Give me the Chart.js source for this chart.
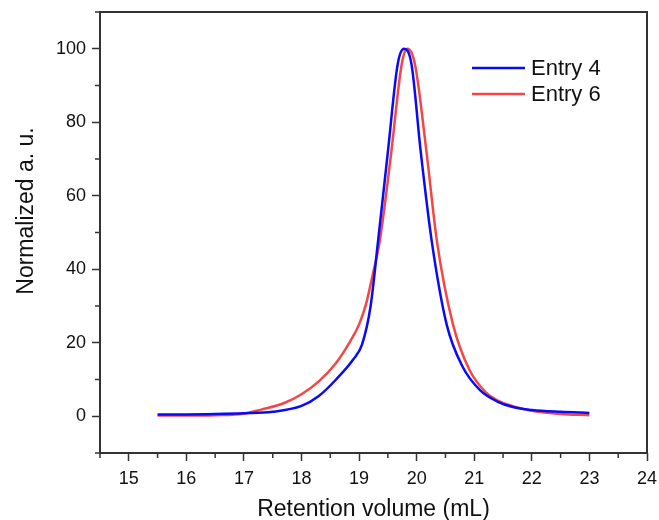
<!DOCTYPE html>
<html>
<head>
<meta charset="utf-8">
<script src="https://cdn.jsdelivr.net/npm/chart.js@4.4.0/dist/chart.umd.min.js"></script>
<style>
  body { margin: 0; background: #fff; }
  #wrap { width: 659px; height: 520px; }
</style>
</head>
<body>
<div id="wrap"><canvas id="gpc"></canvas></div>
<script>
// series (retention volume in mL, normalized signal)
var entry4X = [15.5, 16.0, 16.5, 17.0, 17.5, 18.0, 18.3, 18.6, 18.9, 19.05, 19.2, 19.33, 19.5, 19.67, 19.78, 19.91, 20.07, 20.26, 20.52, 20.8, 21.1, 21.4, 21.67, 22.0, 22.5, 23.0];
var entry4Y = [0.5, 0.5, 0.6, 0.8, 1.2, 2.8, 5.5, 10, 15.5, 19.5, 30, 47.8, 72, 95.8, 100, 95.8, 72, 47.8, 25, 13.4, 7.1, 4, 2.5, 1.7, 1.2, 0.9];

var entry6X = [15.5, 16.0, 16.5, 17.0, 17.3, 17.7, 18.0, 18.3, 18.6, 18.85, 19.0, 19.12, 19.24, 19.36, 19.56, 19.74, 19.84, 19.97, 20.17, 20.35, 20.63, 20.92, 21.2, 21.4, 21.7, 22.0, 22.5, 23.0];
var entry6Y = [0.2, 0.2, 0.3, 0.7, 1.8, 3.6, 6, 9.5, 14.5, 20.5, 25, 30.5, 38.8, 47.8, 72, 95.8, 100, 95.8, 72, 47.8, 25, 12.5, 6.5, 4.3, 2.6, 1.5, 0.6, 0.3];

var xTicks = [15, 16, 17, 18, 19, 20, 21, 22, 23, 24];
var yTicks = [0, 20, 40, 60, 80, 100];
var legendNames = ['Entry 4', 'Entry 6'];
var lineColors = ['#0a0af5', '#f44646'];

function toPoints(xs, ys) {
    var pts = [];
    for (var i = 0; i < xs.length; i++) pts.push({ x: xs[i], y: ys[i] });
    return pts;
}

var axisColor = '#333';
var fontName = "'Liberation Sans', Arial, sans-serif";

// box around the plot, minor ticks, y title and the in-plot legend
var framePlugin = {
    id: 'frame',
    afterDraw: function(chart) {
        var c = chart.ctx, a = chart.chartArea;
        var xs = chart.scales.x, ys = chart.scales.y;
        c.save();
        c.strokeStyle = axisColor;
        c.lineWidth = 1.5;
        // minor ticks
        for (var v = 14.5; v <= 24.001; v += 1) {
            var px = xs.getPixelForValue(v);
            c.beginPath(); c.moveTo(px, a.bottom); c.lineTo(px, a.bottom + 5); c.stroke();
        }
        for (var w = -10; w <= 110; w += 20) {
            var py = ys.getPixelForValue(w);
            c.beginPath(); c.moveTo(a.left, py); c.lineTo(a.left - 5, py); c.stroke();
        }
        c.lineWidth = 2;
        c.strokeRect(a.left, a.top, a.right - a.left, a.bottom - a.top);

        // y axis title
        c.fillStyle = '#111';
        c.font = '23px ' + fontName;
        c.textAlign = 'center';
        c.textBaseline = 'middle';
        c.translate(27, 211);
        c.rotate(-Math.PI / 2);
        c.fillText('Normalized a. u.', 0, 0);
        c.setTransform(1, 0, 0, 1, 0, 0);

        // legend
        c.font = '22px ' + fontName;
        c.textAlign = 'left';
        for (var i = 0; i < legendNames.length; i++) {
            var ly = 68 + i * 26;
            c.strokeStyle = lineColors[i];
            c.lineWidth = 2.5;
            c.beginPath(); c.moveTo(472, ly); c.lineTo(525, ly); c.stroke();
            c.fillText(legendNames[i], 531, ly + 1);
        }
        c.restore();
    }
};

var ctx = document.getElementById('gpc').getContext('2d');
var chart = new Chart(ctx, {
    type: 'line',
    data: {
        datasets: [{
            label: legendNames[0],
            data: toPoints(entry4X, entry4Y),
            borderColor: lineColors[0],
            borderWidth: 2.5,
            pointRadius: 0,
            cubicInterpolationMode: 'monotone'
        }, {
            label: legendNames[1],
            data: toPoints(entry6X, entry6Y),
            borderColor: lineColors[1],
            borderWidth: 2.5,
            pointRadius: 0,
            cubicInterpolationMode: 'monotone'
        }]
    },
    options: {
        responsive: true,
        maintainAspectRatio: false,
        animation: false,
        layout: { padding: { top: 12, right: 12, left: 0, bottom: 0 } },
        plugins: { legend: { display: false }, tooltip: { enabled: false } },
        scales: {
            x: {
                type: 'linear',
                min: 14.5,
                max: 24,
                afterBuildTicks: function(s) { s.ticks = xTicks.map(function(v) { return { value: v }; }); },
                afterFit: function(s) { s.height = 67; s.paddingLeft = 0; s.paddingRight = 0; },
                grid: { drawOnChartArea: false, drawTicks: true, tickLength: 8, tickColor: axisColor, tickWidth: 1.5 },
                border: { display: false },
                ticks: { color: '#111', font: { size: 18, family: fontName }, padding: 7, maxRotation: 0 },
                title: { display: true, text: 'Retention volume (mL)', color: '#111', font: { size: 23, family: fontName }, padding: { top: 0, bottom: -3 } }
            },
            y: {
                min: -10,
                max: 110,
                afterBuildTicks: function(s) { s.ticks = yTicks.map(function(v) { return { value: v }; }); },
                afterFit: function(s) { s.width = 100; s.paddingTop = 0; s.paddingBottom = 0; },
                grid: { drawOnChartArea: false, drawTicks: true, tickLength: 8, tickColor: axisColor, tickWidth: 1.5 },
                border: { display: false },
                ticks: { color: '#111', font: { size: 18, family: fontName }, padding: 6 }
            }
        }
    },
    plugins: [framePlugin]
});
</script>
</body>
</html>
